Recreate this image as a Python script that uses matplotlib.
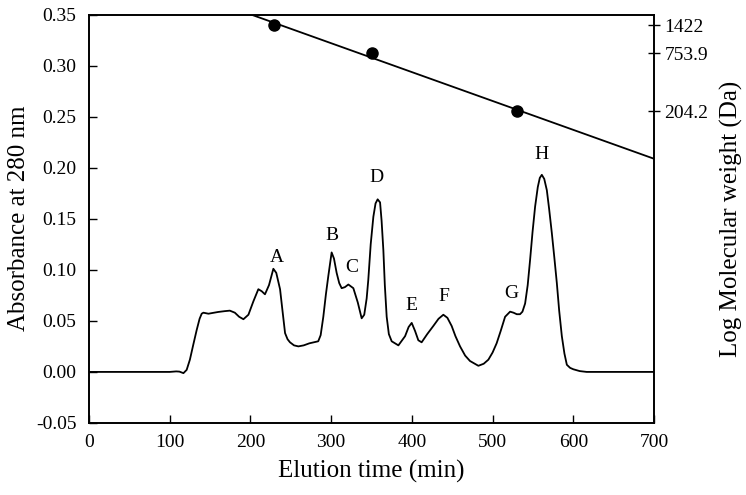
import numpy as np
import matplotlib
matplotlib.use("Agg")
import matplotlib.pyplot as plt

plt.rcParams['font.family'] = ['Liberation Serif', 'DejaVu Serif']
plt.rcParams['mathtext.fontset'] = 'stix'

# Chromatogram (elution time in min, absorbance at 280 nm)
time = [0, 100, 108, 112, 117, 121, 125, 129, 133.4, 137, 139.6, 141.7, 148, 155, 160,
        168, 174.5, 180.7, 186, 191.3, 197.5, 203.6, 209.8, 214, 218, 223, 228.4, 232,
        236.7, 240, 242.9, 246, 249, 254, 259.4, 266, 273, 284, 287, 290.3, 293.5,
        296.5, 300.6, 303.5, 306.8, 310, 313, 317, 321.3, 327.5, 333, 337.8, 341, 344,
        346, 349, 352.3, 355, 357.6, 360.6, 362.5, 364.7, 366.5, 368.8, 371.5, 375,
        383.3, 391.6, 396, 399.8, 404, 408, 412.1, 419, 426.6, 433, 439, 444, 449.3,
        454, 459.7, 466, 472, 482.4, 489, 494.8, 500, 505, 510, 515.5, 521.7, 525.9,
        530, 534, 537, 540.3, 543.5, 546.5, 549.5, 552.7, 556, 558.5, 561, 564, 567.2,
        570, 573.4, 576.5, 579.6, 582.5, 585.8, 589, 592, 596, 600, 608, 616.6, 700]
absorbance = [0.0, 0.0, 0.0005, 0.0003, -0.0012, 0.002, 0.012, 0.026, 0.041, 0.052,
              0.057, 0.058, 0.057, 0.058, 0.0587, 0.0595, 0.060, 0.058, 0.054, 0.0516,
              0.056, 0.069, 0.081, 0.079, 0.076, 0.085, 0.101, 0.097, 0.081, 0.058,
              0.038, 0.032, 0.029, 0.026, 0.025, 0.026, 0.028, 0.030, 0.036, 0.054,
              0.076, 0.094, 0.117, 0.111, 0.097, 0.087, 0.082, 0.083, 0.0856, 0.082,
              0.068, 0.0525, 0.056, 0.072, 0.090, 0.125, 0.152, 0.165, 0.169, 0.166,
              0.148, 0.119, 0.085, 0.054, 0.037, 0.030, 0.026, 0.035, 0.044, 0.048,
              0.040, 0.031, 0.029, 0.037, 0.045, 0.052, 0.056, 0.053, 0.045, 0.035,
              0.025, 0.016, 0.0107, 0.006, 0.008, 0.012, 0.019, 0.028, 0.040, 0.054,
              0.059, 0.058, 0.0565, 0.0565, 0.059, 0.067, 0.085, 0.110, 0.137, 0.162,
              0.181, 0.190, 0.193, 0.189, 0.178, 0.160, 0.136, 0.112, 0.087, 0.060,
              0.035, 0.018, 0.007, 0.004, 0.0026, 0.0008, 0.0, 0.0]

# Peak labels
peak_names = ['A', 'B', 'C', 'D', 'E', 'F', 'G', 'H']
peak_x = [232.5, 301, 325.5, 356.5, 399, 439, 523, 561]
peak_y = [0.112, 0.134, 0.102, 0.190, 0.065, 0.074, 0.077, 0.213]

# Molecular weight standards (elution time, MW in Da)
std_time = [229, 350, 530]
std_mw = [1422, 753.9, 204.2]
mw_tick_labels = ['1422', '753.9', '204.2']

fig = plt.figure(figsize=(7.46, 4.95), dpi=100)
ax = fig.add_axes([0.1193, 0.1455, 0.7574, 0.8252])

ax.plot(time, absorbance, color='black', lw=1.3, solid_joinstyle='round')
for n, x, y in zip(peak_names, peak_x, peak_y):
    ax.text(x, y, n, ha='center', va='center', fontsize=14)

ax.set_xlim(0, 700)
ax.set_ylim(-0.05, 0.35)
ax.set_xticks(np.arange(0, 701, 100))
ax.set_yticks(np.arange(-0.05, 0.351, 0.05))
ax.set_yticklabels(['%.2f' % v for v in np.arange(-0.05, 0.351, 0.05)])
ax.tick_params(direction='in', length=6, width=1, labelsize=14, top=False, right=False)
ax.tick_params(axis='x', pad=8)
ax.tick_params(axis='y', pad=9)
ax.set_xlabel('Elution time (min)', fontsize=18, labelpad=6)
ax.set_ylabel('Absorbance at 280 nm', fontsize=18, labelpad=4)

# Right axis: log molecular weight
ax2 = ax.twinx()
ax2.set_position(ax.get_position())
log_mw = np.log10(std_mw)
coef = np.polyfit(std_time, log_mw, 1)
tfit = np.array([0, 700])
ax2.plot(tfit, np.polyval(coef, tfit), color='black', lw=1.3)
ax2.plot(std_time, log_mw, 'o', color='black', ms=8)
ax2.set_ylim(-0.74, 3.258)
ax2.set_yticks(log_mw)
ax2.set_yticklabels(mw_tick_labels)
ax2.tick_params(axis='y', direction='inout', length=8, width=1, labelsize=14)
ax2.set_ylabel('Log Molecular weight (Da)', fontsize=18, labelpad=8)

for a in (ax, ax2):
    for s in a.spines.values():
        s.set_linewidth(1.2)

fig.savefig('out.png', dpi=100)
